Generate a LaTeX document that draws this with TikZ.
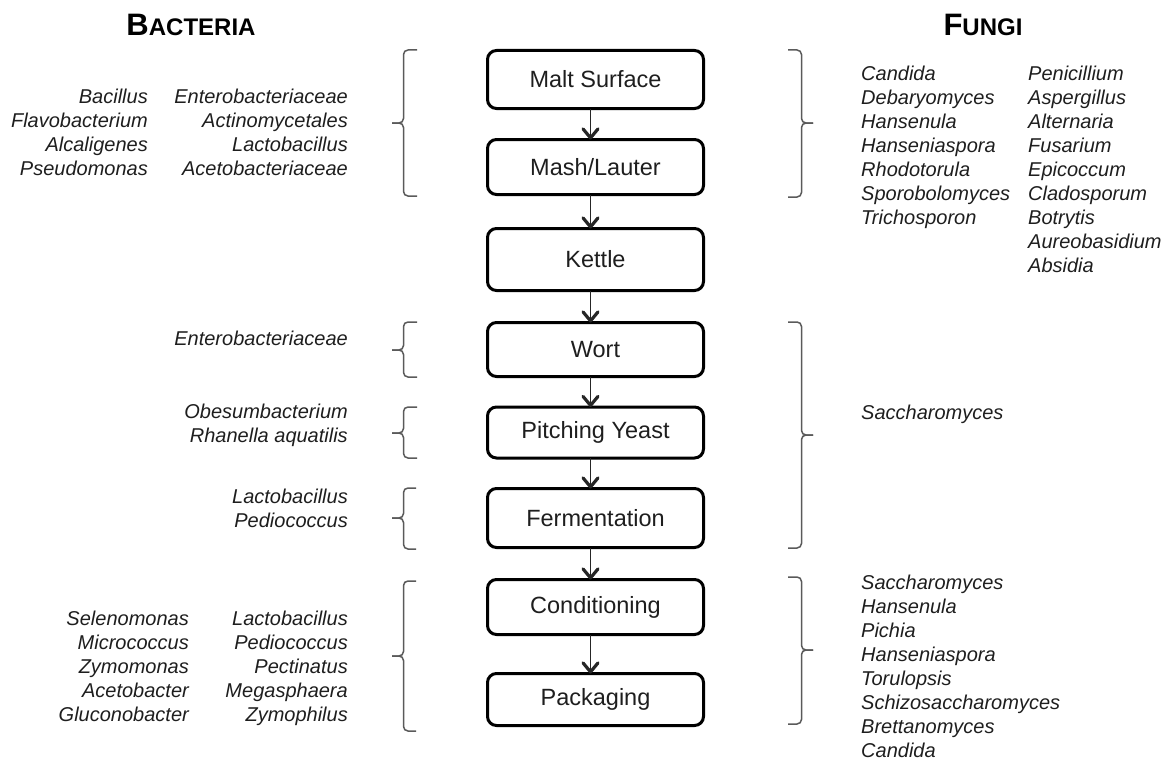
\documentclass[tikz,border=0pt]{standalone}
\usepackage{fontspec}
\setmainfont{Liberation Sans}
\usetikzlibrary{arrows.meta}
\definecolor{ink}{HTML}{1E1E1E}
\definecolor{bracegray}{HTML}{5A5A5A}
\begin{document}
\begin{tikzpicture}[x=1pt,y=-1pt,
  stage/.style={draw=black, line width=3pt, rounded corners=9pt, minimum width=216pt,
    inner sep=0pt, text=ink, font={\fontsize{23.5}{28}\selectfont}},
  flow/.style={line width=1.3pt, draw=black!85,
    -{Straight Barb[length=9pt,width=15pt,line width=3.2pt,round]}},
  bracepath/.style={draw=bracegray, line width=1.5pt, rounded corners=4.5pt},
  listR/.style={anchor=north east, align=right, inner sep=0pt, text=ink,
    font={\fontsize{20}{24}\selectfont\itshape}},
  listL/.style={anchor=north west, align=left, inner sep=0pt, text=ink,
    font={\fontsize{20}{24}\selectfont\itshape}},
  heading/.style={anchor=base, inner sep=0pt, text=black, font=\bfseries}
]
\useasboundingbox (0,0) rectangle (1165,760);

% headings
\node[heading] (hbac) at (191,36) {{\fontsize{31}{31}\selectfont B}{\fontsize{24}{24}\selectfont ACTERIA}};
\node[heading] (hfun) at (983,36) {{\fontsize{31}{31}\selectfont F}{\fontsize{24}{24}\selectfont UNGI}};

% stages
\node[stage, minimum height=58pt] (malt) at (595.5,79.5) {Malt Surface};
\node[stage, minimum height=55pt] (mash) at (595.5,167) {Mash/Lauter};
\node[stage, minimum height=62pt] (kettle) at (595.5,259.5) {Kettle};
\node[stage, minimum height=54pt] (wort) at (595.5,349.5) {Wort};
\node[stage, minimum height=51pt] (pitch) at (595.5,432.5) {Pitching Yeast};
\node[stage, minimum height=59pt] (ferm) at (595.5,518) {Fermentation};
\node[stage, minimum height=55pt] (cond) at (595.5,607) {Conditioning};
\node[stage, minimum height=52pt] (pack) at (595.5,699.5) {Packaging};

% arrows
\foreach \a/\b in {malt/mash, mash/kettle, kettle/wort, wort/pitch, pitch/ferm, ferm/cond, cond/pack}
  \draw[flow] ([xshift=-5pt,yshift=1.5pt]\a.south) -- ([xshift=-5pt,yshift=-1.5pt]\b.north);

% left braces
\draw[bracepath] (417,50) -- (403.5,50) -- (403.5,123) -- (392,123);
\draw[bracepath] (392,123) -- (403.5,123) -- (403.5,196) -- (417,196);

\draw[bracepath] (417,322) -- (403.5,322) -- (403.5,350) -- (392,350);
\draw[bracepath] (392,350) -- (403.5,350) -- (403.5,377) -- (417,377);

\draw[bracepath] (417,407) -- (403.5,407) -- (403.5,433) -- (392,433);
\draw[bracepath] (392,433) -- (403.5,433) -- (403.5,458) -- (417,458);

\draw[bracepath] (416,488) -- (403.5,488) -- (403.5,518) -- (392,518);
\draw[bracepath] (392,518) -- (403.5,518) -- (403.5,549) -- (416,549);

\draw[bracepath] (416,581) -- (403.5,581) -- (403.5,656) -- (392,656);
\draw[bracepath] (392,656) -- (403.5,656) -- (403.5,731) -- (416,731);

% right braces
\draw[bracepath] (788,50) -- (801.5,50) -- (801.5,123) -- (813,123);
\draw[bracepath] (813,123) -- (801.5,123) -- (801.5,197) -- (788,197);

\draw[bracepath] (788,322) -- (801.5,322) -- (801.5,435) -- (813,435);
\draw[bracepath] (813,435) -- (801.5,435) -- (801.5,548) -- (788,548);

\draw[bracepath] (788,577) -- (801.5,577) -- (801.5,650) -- (813,650);
\draw[bracepath] (813,650) -- (801.5,650) -- (801.5,724) -- (788,724);

% bacteria lists
\node[listR] (b1a) at (148,88.4) {Bacillus\\Flavobacterium\\Alcaligenes\\Pseudomonas};
\node[listR] (b1b) at (348,88.4) {Enterobacteriaceae\\Actinomycetales\\Lactobacillus\\Acetobacteriaceae};
\node[listR] (b2) at (348,331) {Enterobacteriaceae};
\node[listR] (b3) at (348,403.4) {Obesumbacterium\\Rhanella aquatilis};
\node[listR] (b4) at (348,488.4) {Lactobacillus\\Pediococcus};
\node[listR] (b5a) at (189,610.4) {Selenomonas\\Micrococcus\\Zymomonas\\Acetobacter\\Gluconobacter};
\node[listR] (b5b) at (348,610.4) {Lactobacillus\\Pediococcus\\Pectinatus\\Megasphaera\\Zymophilus};

% fungi lists
\node[listL] (f1a) at (861,65.4) {Candida\\Debaryomyces\\Hansenula\\Hanseniaspora\\Rhodotorula\\Sporobolomyces\\Trichosporon};
\node[listL] (f1b) at (1028,65.4) {Penicillium\\Aspergillus\\Alternaria\\Fusarium\\Epicoccum\\Cladosporum\\Botrytis\\Aureobasidium\\Absidia};
\node[listL] (f2) at (861,404.4) {Saccharomyces};
\node[listL] (f3) at (861,574.4) {Saccharomyces\\Hansenula\\Pichia\\Hanseniaspora\\Torulopsis\\Schizosaccharomyces\\Brettanomyces\\Candida};
\end{tikzpicture}
\end{document}
